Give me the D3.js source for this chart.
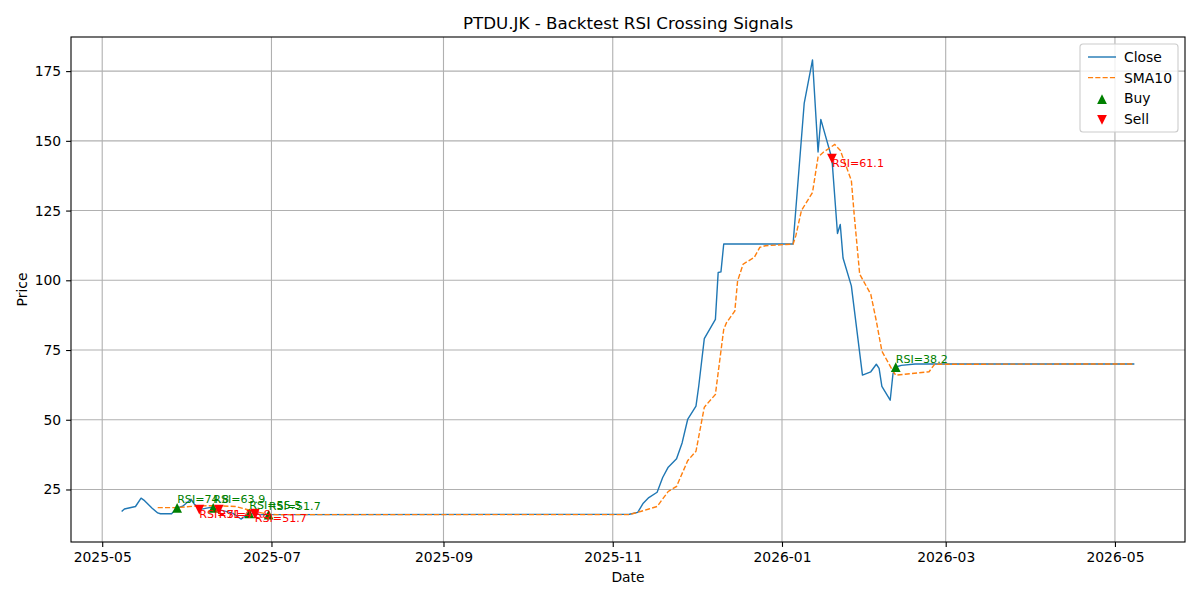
<!DOCTYPE html>
<html>
<head>
<meta charset="utf-8">
<script src="https://cdn.jsdelivr.net/npm/d3@7"></script>
<style>
  body { margin: 0; background: #fff; }
  svg { font-family: "DejaVu Sans", sans-serif; }
</style>
</head>
<body>
<svg id="chart" width="1200" height="600"></svg>
<script>
// Close price
const closeDates = [
  "2025-05-08", "2025-05-09", "2025-05-13", "2025-05-15", "2025-05-16", "2025-05-19",
  "2025-05-21", "2025-05-22", "2025-05-26", "2025-05-28", "2025-05-30", "2025-06-02",
  "2025-06-03", "2025-06-05", "2025-06-09", "2025-06-10", "2025-06-12", "2025-06-17",
  "2025-06-20", "2025-06-23", "2025-06-25", "2025-06-27", "2025-06-30", "2025-11-07",
  "2025-11-10", "2025-11-12", "2025-11-14", "2025-11-17", "2025-11-19", "2025-11-21",
  "2025-11-24", "2025-11-26", "2025-11-28", "2025-12-01", "2025-12-02", "2025-12-04",
  "2025-12-08", "2025-12-09", "2025-12-10", "2025-12-11", "2026-01-05", "2026-01-09",
  "2026-01-12", "2026-01-14", "2026-01-15", "2026-01-19", "2026-01-21", "2026-01-22",
  "2026-01-23", "2026-01-26", "2026-01-30", "2026-02-02", "2026-02-04", "2026-02-05",
  "2026-02-06", "2026-02-09", "2026-02-10", "2026-02-11", "2026-02-13", "2026-02-18",
  "2026-05-08"
];
const closeValues = [
  17.1, 18.0, 18.9, 21.9, 21.2, 18.3,
  16.6, 16.3, 16.3, 18.4, 19.0, 21.5,
  20.0, 17.8, 18.6, 18.4, 17.8, 16.5,
  14.4, 16.4, 16.3, 16.0, 16.0, 16.1,
  16.8, 20.1, 22.1, 24.0, 29.3, 33.0,
  36.0, 41.7, 50.1, 54.9, 62.1, 79.1,
  86.0, 102.8, 103.0, 113.0, 113.0, 163.4,
  179.0, 146.0, 157.7, 143.6, 116.8, 120.0,
  108.0, 98.0, 66.0, 67.2, 69.9, 68.4,
  62.0, 57.0, 66.5, 68.9, 69.5, 70.0,
  70.0
];

// 10-day simple moving average
const smaDates = [
  "2025-05-21", "2025-05-28", "2025-06-04", "2025-06-10", "2025-06-18", "2025-06-25",
  "2025-06-30", "2025-07-03", "2025-11-07", "2025-11-11", "2025-11-14", "2025-11-17",
  "2025-11-21", "2025-11-24", "2025-11-28", "2025-12-01", "2025-12-04", "2025-12-08",
  "2025-12-11", "2025-12-12", "2025-12-15", "2025-12-16", "2025-12-18", "2025-12-22",
  "2025-12-24", "2025-12-26", "2026-01-05", "2026-01-06", "2026-01-08", "2026-01-12",
  "2026-01-14", "2026-01-16", "2026-01-20", "2026-01-22", "2026-01-26", "2026-01-27",
  "2026-01-29", "2026-02-02", "2026-02-04", "2026-02-06", "2026-02-10", "2026-02-11",
  "2026-02-23", "2026-02-25", "2026-05-08"
];
const smaValues = [
  18.5, 18.5, 19.1, 19.2, 18.9, 17.1,
  16.1, 16.0, 16.0, 17.1, 18.0, 18.9,
  24.3, 26.1, 35.3, 38.7, 54.5, 59.1,
  82.4, 84.8, 89.0, 99.8, 105.8, 108.2,
  111.8, 112.4, 113.0, 116.0, 125.0, 131.5,
  144.2, 146.0, 148.7, 146.6, 135.8, 123.8,
  102.2, 95.0, 85.4, 74.6, 67.4, 66.0,
  67.2, 69.9, 70.0
];

// signals
const buyDates = ["2025-05-28", "2025-06-10", "2025-06-23", "2025-06-30", "2026-02-11"];
const buyPrices = [18.4, 18.4, 16.4, 16.0, 68.9];
const buyRsi = [74.8, 63.9, 55.5, 51.7, 38.2];

const sellDates = ["2025-06-05", "2025-06-12", "2025-06-25", "2026-01-19"];
const sellPrices = [17.8, 17.8, 16.3, 143.6];
const sellRsi = [71.4, 72.9, 51.7, 61.1];

const yTicks = [25, 50, 75, 100, 125, 150, 175];

const parse = d3.utcParse("%Y-%m-%d");
const closeData = closeDates.map((d, i) => ({ date: parse(d), value: closeValues[i] }));
const smaData = smaDates.map((d, i) => ({ date: parse(d), value: smaValues[i] }));
const buyData = buyDates.map((d, i) => ({ date: parse(d), value: buyPrices[i], rsi: buyRsi[i] }));
const sellData = sellDates.map((d, i) => ({ date: parse(d), value: sellPrices[i], rsi: sellRsi[i] }));

// Setup dimensions
const width = 1200;
const height = 600;
const margin = { top: 37, right: 15, bottom: 58, left: 71 };
const innerW = width - margin.left - margin.right;
const innerH = height - margin.top - margin.bottom;

const BLUE = "#1f77b4";
const ORANGE = "#ff7f0e";
const GREEN = "#008000";
const RED = "#ff0000";

// matplotlib-style 5% margins
const xExt = d3.extent(closeData, d => d.date);
const xPad = (xExt[1] - xExt[0]) * 0.05;
const x = d3.scaleUtc()
  .domain([new Date(+xExt[0] - xPad), new Date(+xExt[1] + xPad)])
  .range([0, innerW]);

const allVals = closeValues.concat(smaValues);
const yMin = d3.min(allVals), yMax = d3.max(allVals);
const yPad = (yMax - yMin) * 0.05;
const y = d3.scaleLinear()
  .domain([yMin - yPad, yMax + yPad])
  .range([innerH, 0]);

const svg = d3.select("#chart");

svg.append("rect").attr("width", width).attr("height", height).attr("fill", "#fff");

const g = svg.append("g").attr("transform", `translate(${margin.left},${margin.top})`);

const xTickVals = d3.utcMonth.every(2).range(x.domain()[0], x.domain()[1]);

// Grid
g.append("g").selectAll("line")
  .data(xTickVals)
  .join("line")
  .attr("x1", d => x(d)).attr("x2", d => x(d))
  .attr("y1", 0).attr("y2", innerH)
  .attr("stroke", "#b0b0b0").attr("stroke-width", 1.1);

g.append("g").selectAll("line")
  .data(yTicks)
  .join("line")
  .attr("x1", 0).attr("x2", innerW)
  .attr("y1", d => y(d)).attr("y2", d => y(d))
  .attr("stroke", "#b0b0b0").attr("stroke-width", 1.1);

// Lines
const line = d3.line().x(d => x(d.date)).y(d => y(d.value));

g.append("path")
  .datum(closeData)
  .attr("d", line)
  .attr("fill", "none")
  .attr("stroke", BLUE)
  .attr("stroke-width", 1.4)
  .attr("stroke-linejoin", "round");

g.append("path")
  .datum(smaData)
  .attr("d", line)
  .attr("fill", "none")
  .attr("stroke", ORANGE)
  .attr("stroke-width", 1.4)
  .attr("stroke-dasharray", "5.1,2.2");

// Triangle markers
const tri = (up, r) => up
  ? `M0,${-r}L${r},${r}L${-r},${r}Z`
  : `M0,${r}L${r},${-r}L${-r},${-r}Z`;

g.append("g").selectAll("path")
  .data(buyData)
  .join("path")
  .attr("transform", d => `translate(${x(d.date)},${y(d.value)})`)
  .attr("d", tri(true, 4.9))
  .attr("fill", GREEN);

g.append("g").selectAll("path")
  .data(sellData)
  .join("path")
  .attr("transform", d => `translate(${x(d.date)},${y(d.value)})`)
  .attr("d", tri(false, 4.9))
  .attr("fill", RED);

// Annotations
g.append("g").selectAll("text")
  .data(buyData)
  .join("text")
  .attr("x", d => x(d.date))
  .attr("y", d => y(d.value) - 4.5)
  .attr("font-size", "11.1px")
  .attr("fill", GREEN)
  .text(d => `RSI=${d.rsi.toFixed(1)}`);

g.append("g").selectAll("text")
  .data(sellData)
  .join("text")
  .attr("x", d => x(d.date))
  .attr("y", d => y(d.value) + 8.5)
  .attr("font-size", "11.1px")
  .attr("fill", RED)
  .text(d => `RSI=${d.rsi.toFixed(1)}`);

// Axes
const xAxis = d3.axisBottom(x)
  .tickValues(xTickVals)
  .tickFormat(d3.utcFormat("%Y-%m"))
  .tickSizeOuter(0)
  .tickSize(4.9)
  .tickPadding(4.9);

const yAxis = d3.axisLeft(y)
  .tickValues(yTicks)
  .tickSizeOuter(0)
  .tickSize(4.9)
  .tickPadding(4.9);

const gx = g.append("g").attr("transform", `translate(0,${innerH})`).call(xAxis);
const gy = g.append("g").call(yAxis);
[gx, gy].forEach(a => {
  a.select(".domain").remove();
  a.selectAll("line").attr("stroke", "#000").attr("stroke-width", 1.1);
  a.selectAll("text").attr("font-size", "13.9px").attr("fill", "#000")
    .attr("font-family", "DejaVu Sans, sans-serif");
});

// Spines
g.append("rect")
  .attr("width", innerW).attr("height", innerH)
  .attr("fill", "none").attr("stroke", "#000").attr("stroke-width", 1.1);

// Title and labels
svg.append("text")
  .attr("x", margin.left + innerW / 2).attr("y", 29)
  .attr("text-anchor", "middle").attr("font-size", "16.7px")
  .text("PTDU.JK - Backtest RSI Crossing Signals");

svg.append("text")
  .attr("x", margin.left + innerW / 2).attr("y", 582)
  .attr("text-anchor", "middle").attr("font-size", "13.9px")
  .text("Date");

svg.append("text")
  .attr("transform", `translate(27,${margin.top + innerH / 2}) rotate(-90)`)
  .attr("text-anchor", "middle").attr("font-size", "13.9px")
  .text("Price");

// Legend
const legend = svg.append("g").attr("transform", "translate(1080,44)");
legend.append("rect")
  .attr("width", 98).attr("height", 88).attr("rx", 3)
  .attr("fill", "#fff").attr("fill-opacity", 0.8)
  .attr("stroke", "#cccccc").attr("stroke-width", 1.1);

const items = [
  { label: "Close", kind: "line" },
  { label: "SMA10", kind: "dash" },
  { label: "Buy", kind: "up" },
  { label: "Sell", kind: "down" }
];

items.forEach((it, i) => {
  const cy = 13 + i * 20.6;
  const row = legend.append("g").attr("transform", `translate(0,${cy})`);
  if (it.kind === "line" || it.kind === "dash") {
    row.append("line")
      .attr("x1", 8).attr("x2", 36).attr("y1", 0).attr("y2", 0)
      .attr("stroke", it.kind === "line" ? BLUE : ORANGE)
      .attr("stroke-width", 1.4)
      .attr("stroke-dasharray", it.kind === "dash" ? "5.1,2.2" : null);
  } else {
    row.append("path")
      .attr("transform", "translate(22,1)")
      .attr("d", tri(it.kind === "up", 4.9))
      .attr("fill", it.kind === "up" ? GREEN : RED);
  }
  row.append("text")
    .attr("x", 44).attr("y", 5)
    .attr("font-size", "13.9px")
    .text(it.label);
});
</script>
</body>
</html>
